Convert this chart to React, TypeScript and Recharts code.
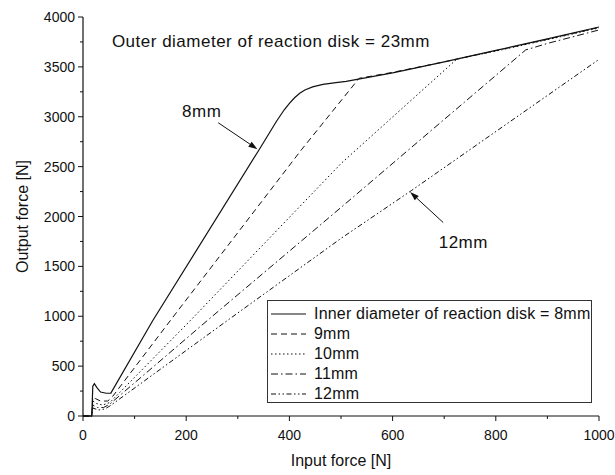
import React from "react"
import {
  LineChart,
  Line,
  XAxis,
  YAxis,
  Legend,
  Label,
  ReferenceDot,
  ReferenceLine,
} from "recharts"

// input force [N], output force [N]
const d8mm: [number, number][] = [
  [0, 0], [17, 0], [19, 300], [22, 325], [27, 285], [34, 240], [45, 228], [54, 230],
  [135, 955], [341, 2667], [375, 2955], [390, 3070], [400, 3135], [410, 3190],
  [420, 3235], [430, 3268], [445, 3300], [465, 3325], [490, 3343], [510, 3355],
  [600, 3440], [700, 3550], [800, 3665], [900, 3780], [1000, 3900],
]
const d9mm: [number, number][] = [
  [0, 0], [17, 0], [19, 190], [24, 175], [34, 150], [48, 150], [58, 200],
  [170, 962], [423, 2667], [535, 3385], [600, 3445], [700, 3550], [800, 3662],
  [900, 3777], [1000, 3895],
]
const d10mm: [number, number][] = [
  [0, 0], [17, 0], [19, 150], [26, 125], [38, 110], [52, 135],
  [209, 962], [501, 2536], [725, 3580], [800, 3658], [900, 3772], [1000, 3890],
]
const d11mm: [number, number][] = [
  [0, 0], [17, 0], [19, 110], [28, 85], [40, 85], [52, 120],
  [242, 962], [501, 2095], [858, 3670], [900, 3735], [1000, 3870],
]
const d12mm: [number, number][] = [
  [0, 0], [17, 0], [19, 80], [30, 60], [42, 70], [52, 100],
  [281, 962], [501, 1784], [637, 2262], [1000, 3575],
]

const seriesNames = ["Inner diameter of reaction disk = 8mm", "9mm", "10mm", "11mm", "12mm"]
const seriesData = [d8mm, d9mm, d10mm, d11mm, d12mm]
const dashes = ["", "6 4", "1.5 2.5", "7 3 1.5 3", "5 2.5 1.5 2.5 1.5 2.5"]

const xTicks = [0, 100, 200, 300, 400, 500, 600, 700, 800, 900, 1000]
const yTicks = [0, 250, 500, 750, 1000, 1250, 1500, 1750, 2000, 2250, 2500, 2750, 3000, 3250, 3500, 3750, 4000]

const FONT = "'Liberation Sans', Arial, sans-serif"
const INK = "#111"

const toRows = (d: [number, number][]) => d.map(([x, y]) => ({ x, y }))

const XTick = (props: any) => {
  const { x, y, payload } = props
  const major = payload.value % 200 === 0
  return (
    <g>
      <line x1={x} x2={x} y1={y} y2={y + (major ? 5 : 3)} stroke={INK} />
      {major && (
        <text x={x} y={y + 24} textAnchor="middle" fontSize={14} fontFamily={FONT} fill={INK}>
          {payload.value}
        </text>
      )}
    </g>
  )
}

const YTick = (props: any) => {
  const { x, y, payload } = props
  const major = payload.value % 500 === 0
  return (
    <g>
      <line x1={x} x2={x - (major ? 5 : 3)} y1={y} y2={y} stroke={INK} />
      {major && (
        <text x={x - 8} y={y + 5} textAnchor="end" fontSize={14} fontFamily={FONT} fill={INK}>
          {payload.value}
        </text>
      )}
    </g>
  )
}

const Arrow = (props: any) => {
  const { x1, y1, x2, y2 } = props
  const a = Math.atan2(y2 - y1, x2 - x1)
  const L = 9
  const W = 3
  const bx = x2 - L * Math.cos(a)
  const by = y2 - L * Math.sin(a)
  const px = -Math.sin(a) * W
  const py = Math.cos(a) * W
  return (
    <g>
      <line x1={x1} y1={y1} x2={bx} y2={by} stroke={INK} strokeWidth={1} />
      <polygon points={`${x2},${y2} ${bx + px},${by + py} ${bx - px},${by - py}`} fill={INK} />
    </g>
  )
}

const textAt = (value: string, anchor: "start" | "middle") => (p: any) => (
  <text
    x={p.cx}
    y={p.cy}
    textAnchor={anchor}
    fontSize={17}
    letterSpacing={0.5}
    fontFamily={FONT}
    fill={INK}
  >
    {value}
  </text>
)

const LegendBox = () => (
  <div
    style={{
      border: "1px solid #333",
      background: "#fff",
      padding: "3px 0 3px 3px",
      fontFamily: FONT,
      fontSize: 16,
      letterSpacing: 0.2,
      color: INK,
      boxSizing: "border-box",
      width: 325,
      height: 103,
    }}
  >
    {seriesNames.map((name, i) => (
      <div key={name} style={{ display: "flex", alignItems: "center", height: 20 }}>
        <svg width={35} height={10} style={{ marginRight: 8 }}>
          <line x1={0} x2={35} y1={5} y2={5} stroke={INK} strokeWidth={1.1} strokeDasharray={dashes[i]} />
        </svg>
        <span>{name}</span>
      </div>
    ))}
  </div>
)

export default function App() {
  return (
    <div>
      <style>{`body{margin:0}`}</style>
      <LineChart width={615} height={475} margin={{ top: 17, right: 16, left: 0, bottom: 0 }}>
        <XAxis
          xAxisId="b"
          dataKey="x"
          type="number"
          domain={[0, 1000]}
          ticks={xTicks}
          tick={<XTick />}
          tickLine={false}
          tickSize={0}
          tickMargin={0}
          height={59}
          axisLine={{ stroke: INK, strokeWidth: 1.2 }}
        >
          <Label
            content={(p: any) => (
              <text
                x={p.viewBox.x + p.viewBox.width / 2}
                y={p.viewBox.y + 50}
                textAnchor="middle"
                fontSize={16}
                fontFamily={FONT}
                fill={INK}
              >
                Input force [N]
              </text>
            )}
          />
        </XAxis>
        <XAxis
          xAxisId="t"
          orientation="top"
          dataKey="x"
          type="number"
          domain={[0, 1000]}
          ticks={xTicks}
          tick={false}
          tickLine={false}
          height={0}
          axisLine={{ stroke: INK, strokeWidth: 1.2 }}
        />
        <YAxis
          yAxisId="l"
          type="number"
          domain={[0, 4000]}
          ticks={yTicks}
          tick={<YTick />}
          tickLine={false}
          tickSize={0}
          tickMargin={0}
          width={83}
          axisLine={{ stroke: INK, strokeWidth: 1.2 }}
        >
          <Label
            content={(p: any) => {
              const cx = 22
              const cy = p.viewBox.y + p.viewBox.height / 2
              return (
                <text
                  x={cx}
                  y={cy}
                  transform={`rotate(-90 ${cx} ${cy})`}
                  textAnchor="middle"
                  dominantBaseline="central"
                  fontSize={16}
                  fontFamily={FONT}
                  fill={INK}
                >
                  Output force [N]
                </text>
              )
            }}
          />
        </YAxis>
        <YAxis
          yAxisId="r"
          orientation="right"
          type="number"
          domain={[0, 4000]}
          tick={false}
          tickLine={false}
          width={0}
          axisLine={{ stroke: INK, strokeWidth: 1.2 }}
        />
        {seriesData.map((d, i) => (
          <Line
            key={seriesNames[i]}
            xAxisId="b"
            yAxisId="l"
            data={toRows(d)}
            dataKey="y"
            name={seriesNames[i]}
            type="linear"
            stroke={INK}
            strokeWidth={i === 0 ? 1.2 : 1}
            strokeDasharray={dashes[i]}
            dot={false}
            activeDot={false}
            isAnimationActive={false}
          />
        ))}
        <ReferenceDot xAxisId="b" yAxisId="l" x={56} y={3700} r={0} shape={textAt("Outer diameter of reaction disk = 23mm", "start")} />
        <ReferenceDot xAxisId="b" yAxisId="l" x={230} y={3000} r={0} shape={textAt("8mm", "middle")} />
        <ReferenceLine xAxisId="b" yAxisId="l" segment={[{ x: 262, y: 2940 }, { x: 338, y: 2675 }]} shape={<Arrow />} />
        <ReferenceDot xAxisId="b" yAxisId="l" x={737} y={1680} r={0} shape={textAt("12mm", "middle")} />
        <ReferenceLine xAxisId="b" yAxisId="l" segment={[{ x: 698, y: 1940 }, { x: 634, y: 2245 }]} shape={<Arrow />} />
        <Legend
          layout="horizontal"
          verticalAlign="middle"
          align="center"
          content={() => <LegendBox />}
          wrapperStyle={{ position: "absolute", left: 267, top: 300, width: 325 }}
        />
      </LineChart>
    </div>
  )
}
